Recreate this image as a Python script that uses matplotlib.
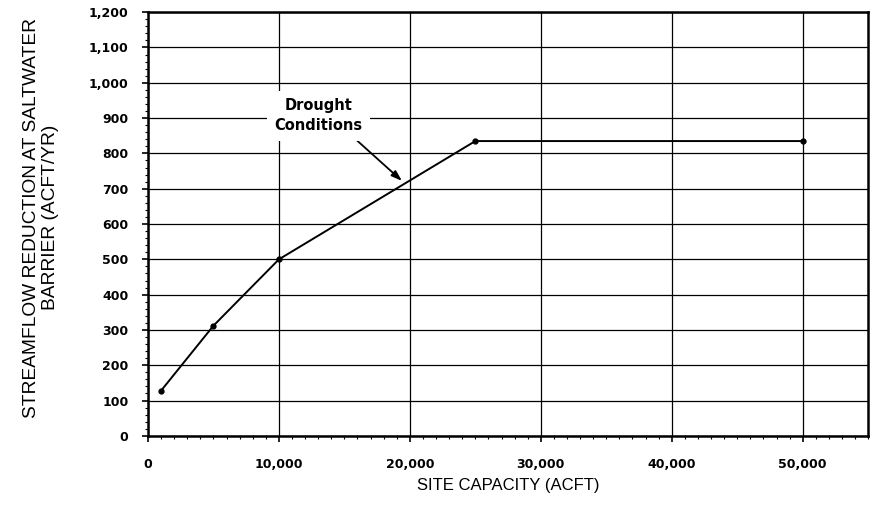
import matplotlib
matplotlib.use("Agg")
import matplotlib.pyplot as plt
from matplotlib.ticker import MultipleLocator, FuncFormatter

plt.rcParams['font.family'] = ['Liberation Sans', 'DejaVu Sans']

site_capacity = [1000, 5000, 10000, 25000, 50000]
streamflow_reduction = [128, 312, 500, 835, 835]
annotation_text = "Drought\nConditions"

fig = plt.figure(figsize=(8.73, 5.08), dpi=100)
ax = fig.add_axes([0.1695, 0.142, 0.825, 0.834])

ax.plot(site_capacity, streamflow_reduction, color='black', lw=1.4,
        marker='o', markersize=3.5, zorder=3)

ax.set_xlim(0, 55000)
ax.set_ylim(0, 1200)
ax.xaxis.set_major_locator(MultipleLocator(10000))
ax.xaxis.set_minor_locator(MultipleLocator(1000))
ax.yaxis.set_major_locator(MultipleLocator(100))
ax.yaxis.set_minor_locator(MultipleLocator(20))
fmt = FuncFormatter(lambda v, p: f"{int(v):,}")
ax.xaxis.set_major_formatter(fmt)
ax.yaxis.set_major_formatter(fmt)

ax.grid(True, which='major', color='black', lw=0.9)
ax.tick_params(which='major', direction='out', length=4, width=1.2, color='black')
ax.tick_params(which='minor', direction='out', length=2.5, width=0.8, color='black')
ax.tick_params(axis='x', pad=12)
ax.tick_params(axis='y', pad=10)
for lbl in ax.get_xticklabels() + ax.get_yticklabels():
    lbl.set_fontfamily('DejaVu Sans')
    lbl.set_fontweight('bold')
    lbl.set_fontsize(9)
for s in ax.spines.values():
    s.set_linewidth(1.8)

ax.set_xlabel("SITE CAPACITY (ACFT)", fontsize=12, labelpad=5)
ax.set_ylabel("STREAMFLOW REDUCTION AT SALTWATER\nBARRIER (ACFT/YR)", fontsize=13.8,
              ha='center', linespacing=1.15)
ax.yaxis.set_label_coords(-0.124, 0.515)

ax.annotate(annotation_text, xy=(19400, 722), xytext=(13000, 907),
            ha='center', va='center', fontsize=10.5, fontweight='bold',
            family='DejaVu Sans', linespacing=1.45,
            bbox=dict(boxstyle='square,pad=0.5', fc='white', ec='none'),
            arrowprops=dict(arrowstyle='-|>,head_length=0.6,head_width=0.2',
                            color='black', lw=1.3,
                            shrinkA=0, shrinkB=0,
                            relpos=(0.85, 0.0)),
            zorder=4)

fig.savefig("out.png", dpi=100)
